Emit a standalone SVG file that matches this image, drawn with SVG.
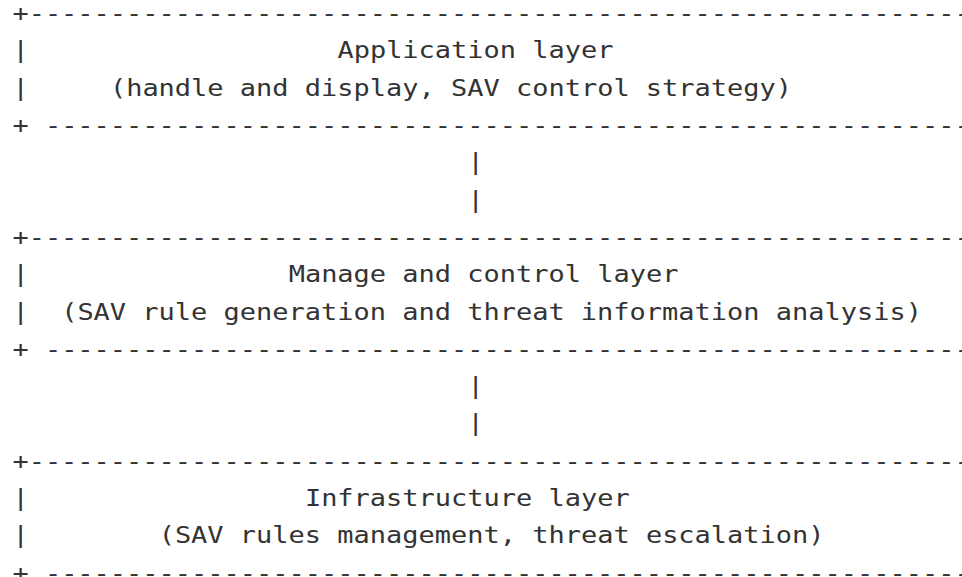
<svg xmlns="http://www.w3.org/2000/svg" width="962" height="577" viewBox="0 0 962 577">
<style>
text{font-family:"DejaVu Sans Mono","Liberation Mono",monospace;font-size:23px;fill:#333;}
</style>
<rect width="962" height="577" fill="#fff"/>
<g transform="scale(1.1735,1)">
<g id="application-layer">
<text x="10.57" y="21.2">+-----------------------------------------------------------</text>
<text x="10.57" y="58.5">|</text>
<text x="287.52" y="58.5">Application layer</text>
<text x="10.57" y="95.8">|</text>
<text x="93.65" y="95.8">(handle and display, SAV control strategy)</text>
<text x="10.57" y="133.1">+</text>
<text x="38.26" y="133.1">----------------------------------------------------------</text>
</g>
<g id="connectors">
<text x="398.3" y="170.4">|</text>
<text x="398.3" y="207.7">|</text>
<text x="398.3" y="394.2">|</text>
<text x="398.3" y="431.5">|</text>
</g>
<g id="manage-control-layer">
<text x="10.57" y="245">+-----------------------------------------------------------</text>
<text x="10.57" y="282.3">|</text>
<text x="245.97" y="282.3">Manage and control layer</text>
<text x="10.57" y="319.6">|</text>
<text x="52.11" y="319.6">(SAV rule generation and threat information analysis)</text>
<text x="10.57" y="356.9">+</text>
<text x="38.26" y="356.9">----------------------------------------------------------</text>
</g>
<g id="infrastructure-layer">
<text x="10.57" y="468.8">+-----------------------------------------------------------</text>
<text x="10.57" y="506.1">|</text>
<text x="259.82" y="506.1">Infrastructure layer</text>
<text x="10.57" y="543.4">|</text>
<text x="135.19" y="543.4">(SAV rules management, threat escalation)</text>
<text x="10.57" y="580.7">+</text>
<text x="38.26" y="580.7">----------------------------------------------------------</text>
</g>
</g>
</svg>
